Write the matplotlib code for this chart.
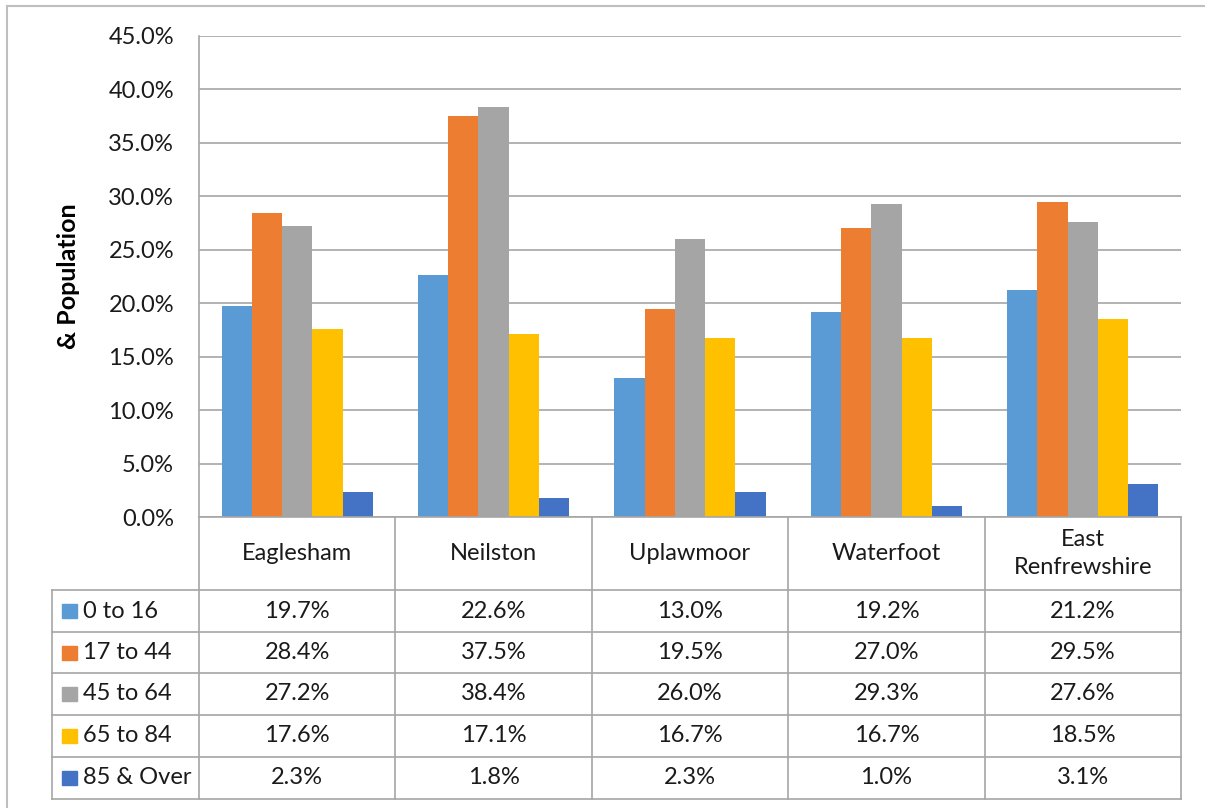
import matplotlib
matplotlib.use('Agg')
import matplotlib.pyplot as plt
from matplotlib.lines import Line2D
from matplotlib.patches import Rectangle
import numpy as np

# data
areas = ['Eaglesham', 'Neilston', 'Uplawmoor', 'Waterfoot', 'East\nRenfrewshire']
groups = ['0 to 16', '17 to 44', '45 to 64', '65 to 84', '85 & Over']
age_0_16 = [19.7, 22.6, 13.0, 19.2, 21.2]
age_17_44 = [28.4, 37.5, 19.5, 27.0, 29.5]
age_45_64 = [27.2, 38.4, 26.0, 29.3, 27.6]
age_65_84 = [17.6, 17.1, 16.7, 16.7, 18.5]
age_85_over = [2.3, 1.8, 2.3, 1.0, 3.1]
series = [age_0_16, age_17_44, age_45_64, age_65_84, age_85_over]
colors = ['#5B9BD5', '#ED7D31', '#A5A5A5', '#FFC000', '#4472C4']

plt.rcParams['font.family'] = ['Lato', 'DejaVu Sans']

W, H = 1205, 808
fig = plt.figure(figsize=(W / 100, H / 100), dpi=100)
fig.patch.set_facecolor('white')

def fx(px):
    return px / W

def fy(py):
    return 1 - py / H

# pixel layout
left, right, top, bottom = 199, 1181, 36, 517
tab_left = 52
row_edges = [517, 590, 632, 673, 715, 757, 799]
grid_col = '#A6A6A6'
text_col = '#1A1A1A'
fs = 17

ax = fig.add_axes([fx(left), fy(bottom), fx(right - left), (bottom - top) / H])
n = len(areas)
w = 1 / 6.5
x = np.arange(n)
for i, (vals, c) in enumerate(zip(series, colors)):
    ax.bar(x + (i - 2) * w, vals, width=w, color=c, zorder=3)
ax.set_xlim(-0.5, n - 0.5)
ax.set_ylim(0, 45)
ax.set_yticks(np.arange(0, 46, 5))
ax.set_yticklabels([f'{v:.1f}%' for v in np.arange(0, 46, 5)], fontsize=fs, color=text_col)
ax.set_xticks([])
ax.tick_params(axis='y', length=0, pad=18)
ax.grid(axis='y', color=grid_col, linewidth=1.2, zorder=0)
for s in ['top', 'right', 'bottom']:
    ax.spines[s].set_visible(False)
ax.spines['left'].set_color(grid_col)
ax.spines['left'].set_linewidth(1.2)
ax.set_ylabel('& Population', fontsize=18, fontweight='bold', labelpad=20, color='black')

# outer chart border
fig.add_artist(Line2D([fx(7), fx(7)], [fy(6), fy(808)], color='#BFBFBF', lw=1.5))
fig.add_artist(Line2D([fx(7), fx(1205)], [fy(6), fy(6)], color='#BFBFBF', lw=1.5))

# data table
col_edges = np.linspace(left, right, n + 1)

def hline(x0, x1, y):
    fig.add_artist(Line2D([fx(x0), fx(x1)], [fy(y), fy(y)], color=grid_col, lw=1.2))

def vline(xp, y0, y1):
    fig.add_artist(Line2D([fx(xp), fx(xp)], [fy(y0), fy(y1)], color=grid_col, lw=1.2))

hline(left, right, row_edges[0])
for y in row_edges[1:]:
    hline(tab_left, right, y)
for xe in col_edges:
    vline(xe, row_edges[0], row_edges[-1])
vline(tab_left, row_edges[1], row_edges[-1])

# header
for j, name in enumerate(areas):
    cx = (col_edges[j] + col_edges[j + 1]) / 2
    cy = (row_edges[0] + row_edges[1]) / 2
    fig.text(fx(cx), fy(cy), name, ha='center', va='center', fontsize=fs,
             color=text_col, linespacing=1.45)

# rows
for i, (g, vals, c) in enumerate(zip(groups, series, colors)):
    cy = (row_edges[i + 1] + row_edges[i + 2]) / 2
    fig.add_artist(Rectangle((fx(62), fy(cy + 7)), 15 / W, 14 / H, color=c,
                             transform=fig.transFigure))
    fig.text(fx(83), fy(cy), g, ha='left', va='center', fontsize=fs, color=text_col)
    for j, v in enumerate(vals):
        cx = (col_edges[j] + col_edges[j + 1]) / 2
        fig.text(fx(cx), fy(cy), f'{v:.1f}%', ha='center', va='center',
                 fontsize=fs, color=text_col)

fig.savefig('out.png', dpi=100, facecolor='white')
